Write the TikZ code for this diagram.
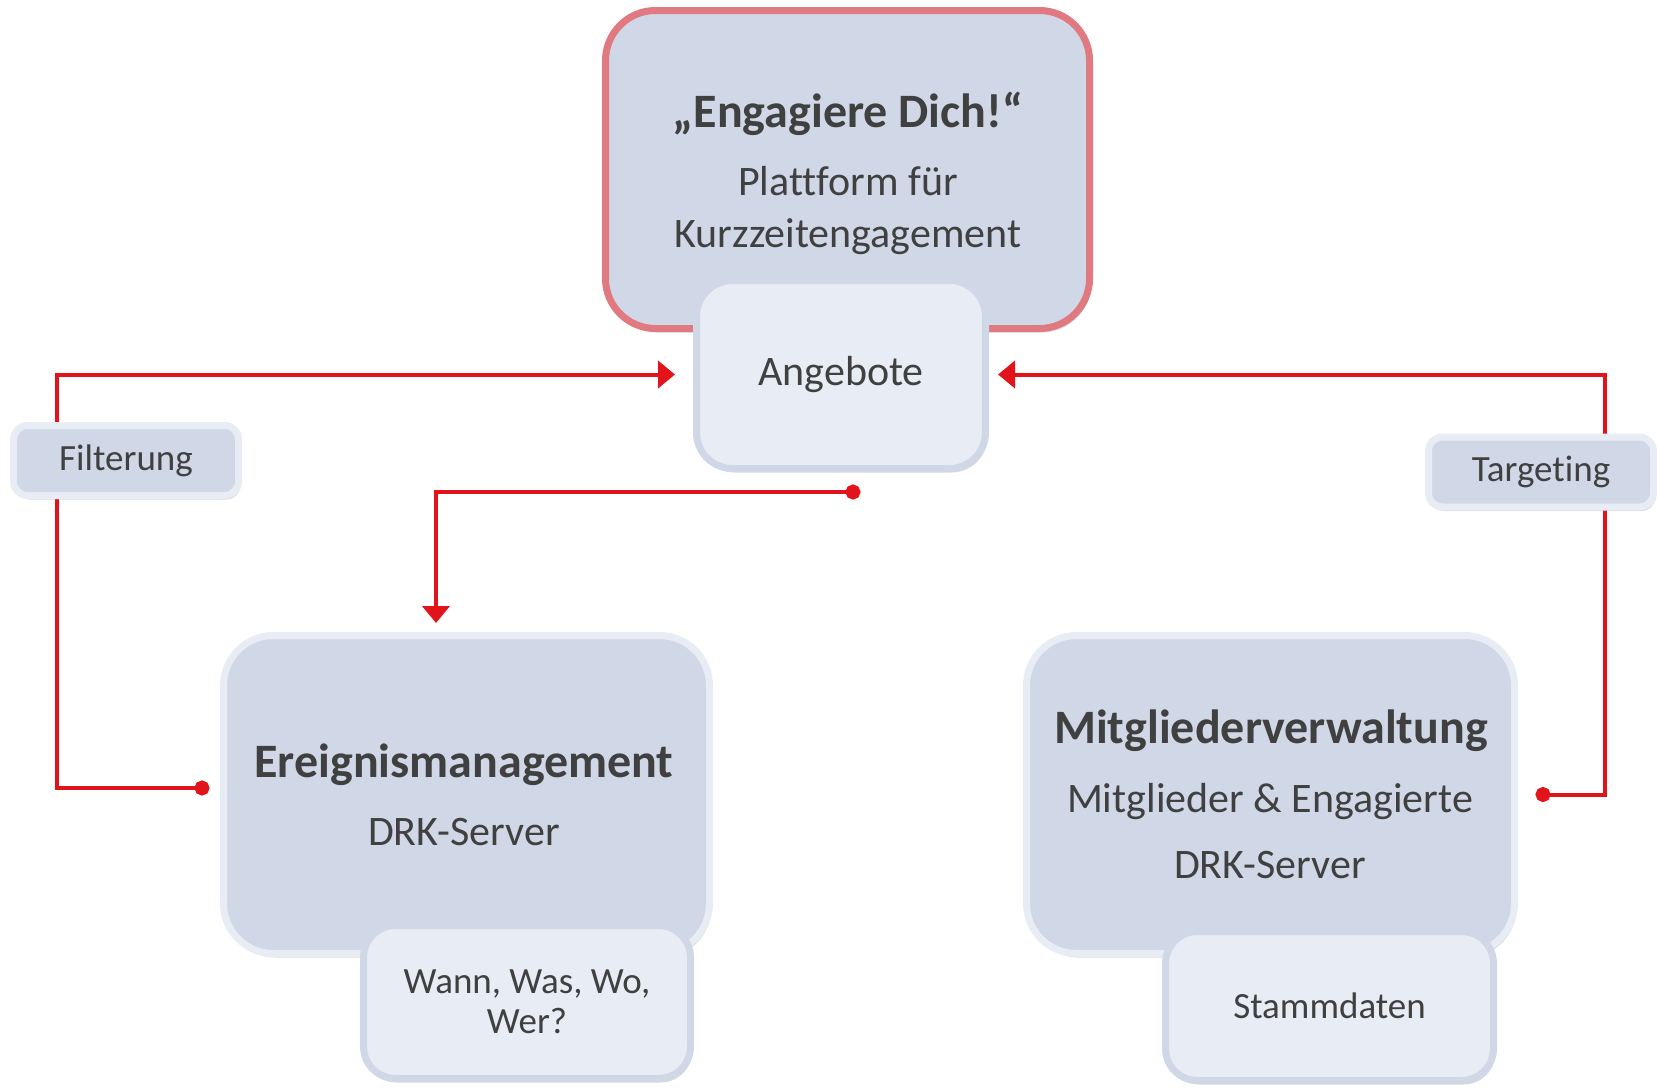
\documentclass[tikz,border=0pt]{standalone}
\usepackage{fontspec}
\setmainfont{Carlito}[Ligatures=NoCommon]
\usetikzlibrary{arrows.meta,shadows}
\definecolor{kastenblau}{RGB}{208,215,230}
\definecolor{kastenhell}{RGB}{232,236,244}
\definecolor{kastenrot}{RGB}{224,122,128}
\definecolor{linienrot}{RGB}{227,19,27}
\definecolor{schriftgrau}{RGB}{64,64,64}
\newcommand\titelschrift{\fontsize{48}{56}\selectfont\bfseries}
\newcommand\grundschrift{\fontsize{42}{50}\selectfont}
\newcommand\etikettschrift{\fontsize{37}{40}\selectfont}
\tikzset{
schatten/.style={drop shadow={opacity=.3,shadow xshift=2pt,shadow yshift=-4pt}},
kasten/.style={draw=kastenhell,fill=kastenblau,line width=7pt,rounded corners=50pt,schatten},
hauptkasten/.style={kasten,draw=kastenrot},
unterkasten/.style={draw=kastenblau,fill=kastenhell,line width=7pt,rounded corners=32pt,schatten,
  text=schriftgrau,align=center},
etikett/.style={draw=kastenhell,fill=kastenblau,line width=7pt,rounded corners=14pt,schatten,
  text=schriftgrau,font=\etikettschrift,minimum width=225pt,minimum height=70pt},
zeile/.style={anchor=base,text=schriftgrau,inner sep=0pt},
fluss/.style={draw=linienrot,line width=4pt,{Circle[length=15pt]}-{Triangle[length=17pt,width=27pt]}}
}
\begin{document}
\begin{tikzpicture}[x=1pt,y=-1pt]
\useasboundingbox (0,0) rectangle (1657,1088);

\node[hauptkasten,minimum width=484pt,minimum height=318pt] (plattform) at (847.5,169.5) {};
\node[zeile,font=\titelschrift] (plattformtitel) at (848,127) {„Engagiere Dich!“};
\node[zeile,font=\grundschrift] (plattformzeile1) at (848,195) {Plattform für};
\node[zeile,font=\grundschrift] (plattformzeile2) at (848,247) {Kurzzeitengagement};
\node[unterkasten,font=\grundschrift,minimum width=289pt,minimum height=188pt,rounded corners=36pt] (angebote) at (841,374.5) {Angebote};

\node[kasten,minimum width=486pt,minimum height=318pt] (ereignis) at (466.5,794.5) {};
\node[zeile,font=\titelschrift] (ereignistitel) at (464,777) {Ereignismanagement};
\node[zeile,font=\grundschrift] (ereigniszeile) at (464,845) {DRK-Server};
\node[unterkasten,font=\etikettschrift,minimum width=327pt,minimum height=153pt] (wann) at (527,1002) {Wann, Was, Wo,\\Wer?};

\node[kasten,minimum width=488pt,minimum height=318pt] (mitglieder) at (1270.5,794.5) {};
\node[zeile,font=\titelschrift] (mitgliedertitel) at (1271,743) {Mitgliederverwaltung};
\node[zeile,font=\grundschrift] (mitgliederzeile1) at (1270,812) {Mitglieder \& Engagierte};
\node[zeile,font=\grundschrift] (mitgliederzeile2) at (1270,878) {DRK-Server};
\node[unterkasten,font=\etikettschrift,minimum width=328pt,minimum height=149pt] (stammdaten) at (1329.5,1006) {Stammdaten};

\coordinate (angebotsausgang) at (860.5,492);
\draw[fluss,shorten <=10.5pt,shorten >=18pt] ([yshift=6.5pt]ereignis.west) -- (57,788) |- (angebote.west);
\draw[fluss,shorten >=9pt] (angebotsausgang) -| ([xshift=-30.5pt]ereignis.north);
\draw[fluss,shorten <=17.5pt,shorten >=9pt] (mitglieder.east) -- (1605,794.5) |- (angebote.east);

\node[etikett] (filterung) at (126,460.5) {Filterung};
\node[etikett] (targeting) at (1541,472) {Targeting};
\end{tikzpicture}
\end{document}
